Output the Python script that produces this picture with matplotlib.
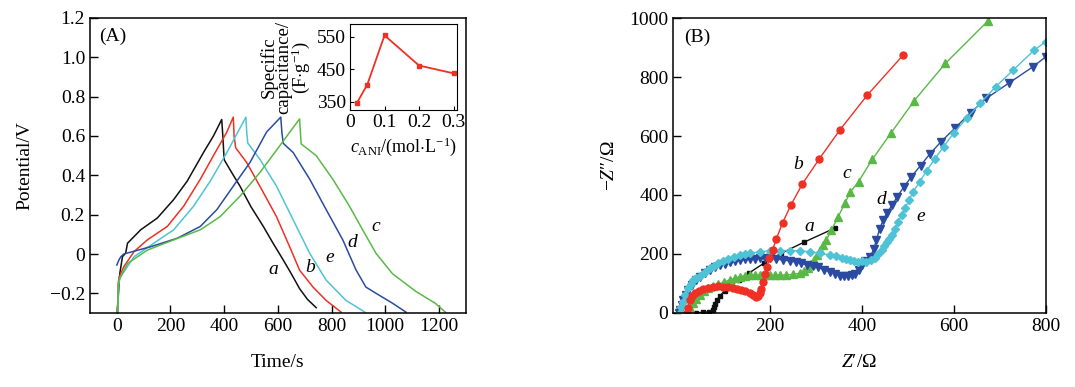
import numpy as np
import matplotlib
matplotlib.use('Agg')
import matplotlib.pyplot as plt

plt.rcParams['font.family'] = ['Liberation Serif', 'DejaVu Serif']
plt.rcParams['mathtext.fontset'] = 'custom'
plt.rcParams['mathtext.rm'] = 'Liberation Serif'
plt.rcParams['mathtext.it'] = 'Liberation Serif:italic'
plt.rcParams['axes.unicode_minus'] = True

# ---- panel A : charge/discharge curves (time in s, potential in V) ----
t_a = [2, 6, 11, 21, 33, 40, 89, 151, 212, 262, 323, 360, 391, 395, 400, 404,
       430, 459, 500, 546, 580, 620, 650, 681, 710, 743]
v_a = [-0.296, -0.2, -0.1, -0.014, 0.005, 0.055, 0.123, 0.183, 0.277, 0.37, 0.516,
       0.60, 0.684, 0.60, 0.48, 0.47, 0.41, 0.345, 0.24, 0.14, 0.06, -0.03,
       -0.10, -0.176, -0.23, -0.273]

t_b = [2.5, 5, 9, 26, 64, 114, 188, 249, 311, 360, 410, 434, 437, 443, 484,
       533, 595, 644, 681, 731, 780, 836]
v_b = [-0.296, -0.15, -0.116, -0.065, 0.012, 0.072, 0.14, 0.243, 0.38, 0.50,
       0.62, 0.696, 0.60, 0.54, 0.465, 0.345, 0.19, 0.037, -0.082, -0.168,
       -0.236, -0.296]

t_c = [3, 8, 40, 114, 212, 311, 385, 459, 533, 607, 681, 684, 687, 743, 805,
       867, 916, 966, 1027, 1114, 1186, 1225]
v_c = [-0.296, -0.133, -0.048, 0.02, 0.072, 0.123, 0.19, 0.294, 0.414, 0.55,
       0.687, 0.62, 0.56, 0.5, 0.38, 0.243, 0.123, 0.003, -0.1, -0.19, -0.25,
       -0.296]

t_d = [0, 8, 15, 26, 126, 225, 311, 373, 434, 496, 558, 611, 615, 620, 657,
       719, 780, 842, 891, 928, 966, 1027, 1078]
v_d = [-0.056, -0.03, -0.014, 0.0, 0.037, 0.08, 0.14, 0.226, 0.345, 0.465,
       0.62, 0.696, 0.62, 0.563, 0.516, 0.38, 0.226, 0.072, -0.08, -0.168,
       -0.2, -0.25, -0.296]

t_e = [3, 6, 12, 64, 138, 212, 286, 348, 410, 481, 484, 488, 533, 595, 657,
       719, 780, 854, 925]
v_e = [-0.296, -0.16, -0.12, -0.014, 0.055, 0.123, 0.243, 0.37, 0.516, 0.696,
       0.62, 0.564, 0.482, 0.345, 0.174, 0.003, -0.133, -0.236, -0.296]

# inset: specific capacitance vs aniline concentration
c_ani = [0.02, 0.05, 0.1, 0.2, 0.3]
cap = [347, 403, 555, 462, 438]

# ---- panel B : Nyquist plots (Z' , -Z'' in ohm) ----
zr_a = [40, 55, 68, 76, 79, 81, 85, 92, 102, 115, 133, 155, 187, 225, 275, 341]
zi_a = [0, 1, 3, 8, 18, 30, 42, 58, 75, 91, 112, 135, 168, 202, 240, 287]

zr_b = [19, 21, 26, 31, 37, 45, 55, 66, 77, 88, 98, 109, 120, 129, 138, 147,
        156, 164, 171, 175, 178, 181, 185, 190, 194, 199, 206, 214, 228, 246,
        271, 307, 352, 412, 490]
zi_b = [0, 15, 43, 56, 66, 75, 80, 85, 88, 89, 88, 86, 83, 80, 77, 72, 66, 60,
        54, 57, 66, 80, 105, 130, 156, 185, 213, 250, 306, 366, 438, 521, 620,
        739, 875]

zr_c = [22, 26, 33, 40, 48, 57, 66, 77, 88, 100, 113, 124, 135, 146, 156, 167,
        178, 189, 200, 211, 222, 236, 250, 265, 275, 283, 290, 296, 303, 309,
        316, 323, 334, 349, 363, 375, 393, 423, 463, 514, 582, 675]
zi_c = [0, 15, 32, 47, 60, 72, 83, 90, 96, 104, 111, 117, 122, 126, 128, 128,
        128, 128, 128, 128, 128, 128, 130, 134, 140, 151, 165, 180, 196, 213,
        230, 247, 281, 326, 371, 410, 445, 521, 609, 720, 847, 992]

zr_d = [3, 5, 8, 12, 17, 23, 30, 39, 48, 58, 69, 80, 91, 102, 113, 124, 135,
        146, 156, 167, 178, 189, 200, 214, 229, 243, 256, 268, 280, 293, 305,
        318, 331, 342, 352, 361, 370, 378, 385, 393, 400, 408, 418, 426, 432,
        439, 447, 455, 466, 477, 492, 508, 528, 548, 572, 602, 637, 671, 720,
        772, 800]
zi_d = [0, 10, 25, 42, 60, 78, 94, 110, 122, 134, 145, 154, 162, 167, 171,
        175, 179, 181, 182, 184, 185, 185, 185, 182, 179, 176, 173, 168, 162,
        158, 154, 146, 139, 132, 125, 123, 123, 127, 133, 145, 162, 176, 190,
        215, 247, 286, 315, 340, 365, 394, 428, 462, 500, 539, 580, 626, 680,
        728, 780, 835, 869]

zr_e = [4, 6, 11, 16, 22, 28, 33, 40, 48, 58, 69, 78, 88, 98, 109, 122, 135,
        146, 156, 178, 200, 222, 244, 265, 287, 309, 331, 344, 356, 365, 374,
        383, 392, 401, 410, 420, 429, 436, 443, 449, 454, 460, 465, 472, 479,
        487, 494, 503, 512, 526, 541, 559, 578, 600, 628, 658, 691, 730, 775,
        800]
zi_e = [0, 20, 37, 60, 83, 98, 111, 117, 124, 138, 151, 160, 168, 175, 181,
        189, 196, 199, 202, 207, 210, 211, 211, 210, 207, 202, 196, 191, 185,
        182, 179, 175, 173, 175, 173, 178, 185, 199, 213, 227, 241, 252, 264,
        286, 309, 332, 355, 383, 411, 445, 482, 523, 564, 610, 660, 712, 767,
        825, 892, 920]

col_a = '#111111'
col_b = '#ee3124'
col_c = '#5ab946'
col_d = '#2b4ba0'
col_e = '#4fc3d6'

fs = 14

#===============================================================================
fig = plt.figure(figsize=(10.75, 3.87), dpi=100)

axA = fig.add_axes([0.0837, 0.1912, 0.3495, 0.7623])
for t, v, c in [(t_a, v_a, col_a), (t_b, v_b, col_b), (t_e, v_e, col_e),
                (t_d, v_d, col_d), (t_c, v_c, col_c)]:
    axA.plot(t, v, color=c, lw=1.1)
axA.set_xlim(-100, 1300)
axA.set_ylim(-0.3, 1.2)
axA.set_xticks([0, 200, 400, 600, 800, 1000, 1200])
axA.set_yticks([-0.2, 0, 0.2, 0.4, 0.6, 0.8, 1.0, 1.2])
axA.set_yticklabels(['\u22120.2', '0', '0.2', '0.4', '0.6', '0.8', '1.0', '1.2'])
axA.tick_params(direction='in', length=6, labelsize=fs, width=1)
axA.set_xlabel('Time/s', fontsize=fs, labelpad=14)
axA.set_ylabel('Potential/V', fontsize=fs, labelpad=12)
axA.text(0.024, 0.966, '(A)', transform=axA.transAxes, fontsize=fs, va='top', ha='left')
for lab, (x, y) in zip('abedc', [(582, -0.08), (719, -0.07), (793, -0.02),
                                 (878, 0.056), (966, 0.14)]):
    axA.text(x, y, lab, fontsize=fs, style='italic', ha='center', va='center')
for s in axA.spines.values():
    s.set_linewidth(1.1)

# inset
axI = fig.add_axes([0.3256, 0.7158, 0.0995, 0.2222])
axI.plot(c_ani, cap, color=col_b, lw=1.3, marker='s', ms=3.5)
axI.set_xlim(0, 0.31)
axI.set_ylim(325, 590)
axI.set_xticks([0, 0.1, 0.2, 0.3])
axI.set_xticklabels(['0', '0.1', '0.2', '0.3'])
axI.set_yticks([350, 450, 550])
axI.tick_params(direction='in', length=3, labelsize=fs, pad=3)
axI.set_xlabel(r'$c_{\rm ANI}$/(mol$\cdot$L$^{-1}$)', fontsize=13, labelpad=3)
fig.text(286 / 1075, 1 - 67 / 387, 'Specific\ncapacitance/\n(F$\\cdot$g$^{-1}$)',
         rotation=90, fontsize=13.5, ha='center', va='center', multialignment='center',
         linespacing=0.85)

#===============================================================================
axB = fig.add_axes([0.6263, 0.192, 0.3464, 0.7607])
axB.plot(zr_a, zi_a, color=col_a, lw=1.0, marker='s', ms=3.5)
axB.plot(zr_c, zi_c, color=col_c, lw=1.0, marker='^', ms=5.5)
axB.plot(zr_d, zi_d, color=col_d, lw=1.0, marker='v', ms=5.5)
axB.plot(zr_e, zi_e, color=col_e, lw=1.0, marker='D', ms=4.0)
axB.plot(zr_b, zi_b, color=col_b, lw=1.0, marker='o', ms=5.0)
axB.set_xlim(-10, 800)
axB.set_ylim(0, 1000)
axB.set_xticks([200, 400, 600, 800])
axB.set_yticks([0, 200, 400, 600, 800, 1000])
axB.tick_params(direction='in', length=6, labelsize=fs, width=1)
axB.set_xlabel(r'$Z$' + '\u2032/\u03a9', fontsize=fs, labelpad=14)
axB.set_ylabel('\u2212' + r'$Z$' + '\u2033/\u03a9', fontsize=fs, labelpad=8)
axB.text(0.029, 0.966, '(B)', transform=axB.transAxes, fontsize=fs, va='top', ha='left')
for lab, (x, y) in zip('bcade', [(261, 502), (367, 473), (285, 292),
                                 (443, 385), (528, 326)]):
    axB.text(x, y, lab, fontsize=fs, style='italic', ha='center', va='center')
for s in axB.spines.values():
    s.set_linewidth(1.1)

fig.savefig('out.png', dpi=100)
plt.close(fig)
